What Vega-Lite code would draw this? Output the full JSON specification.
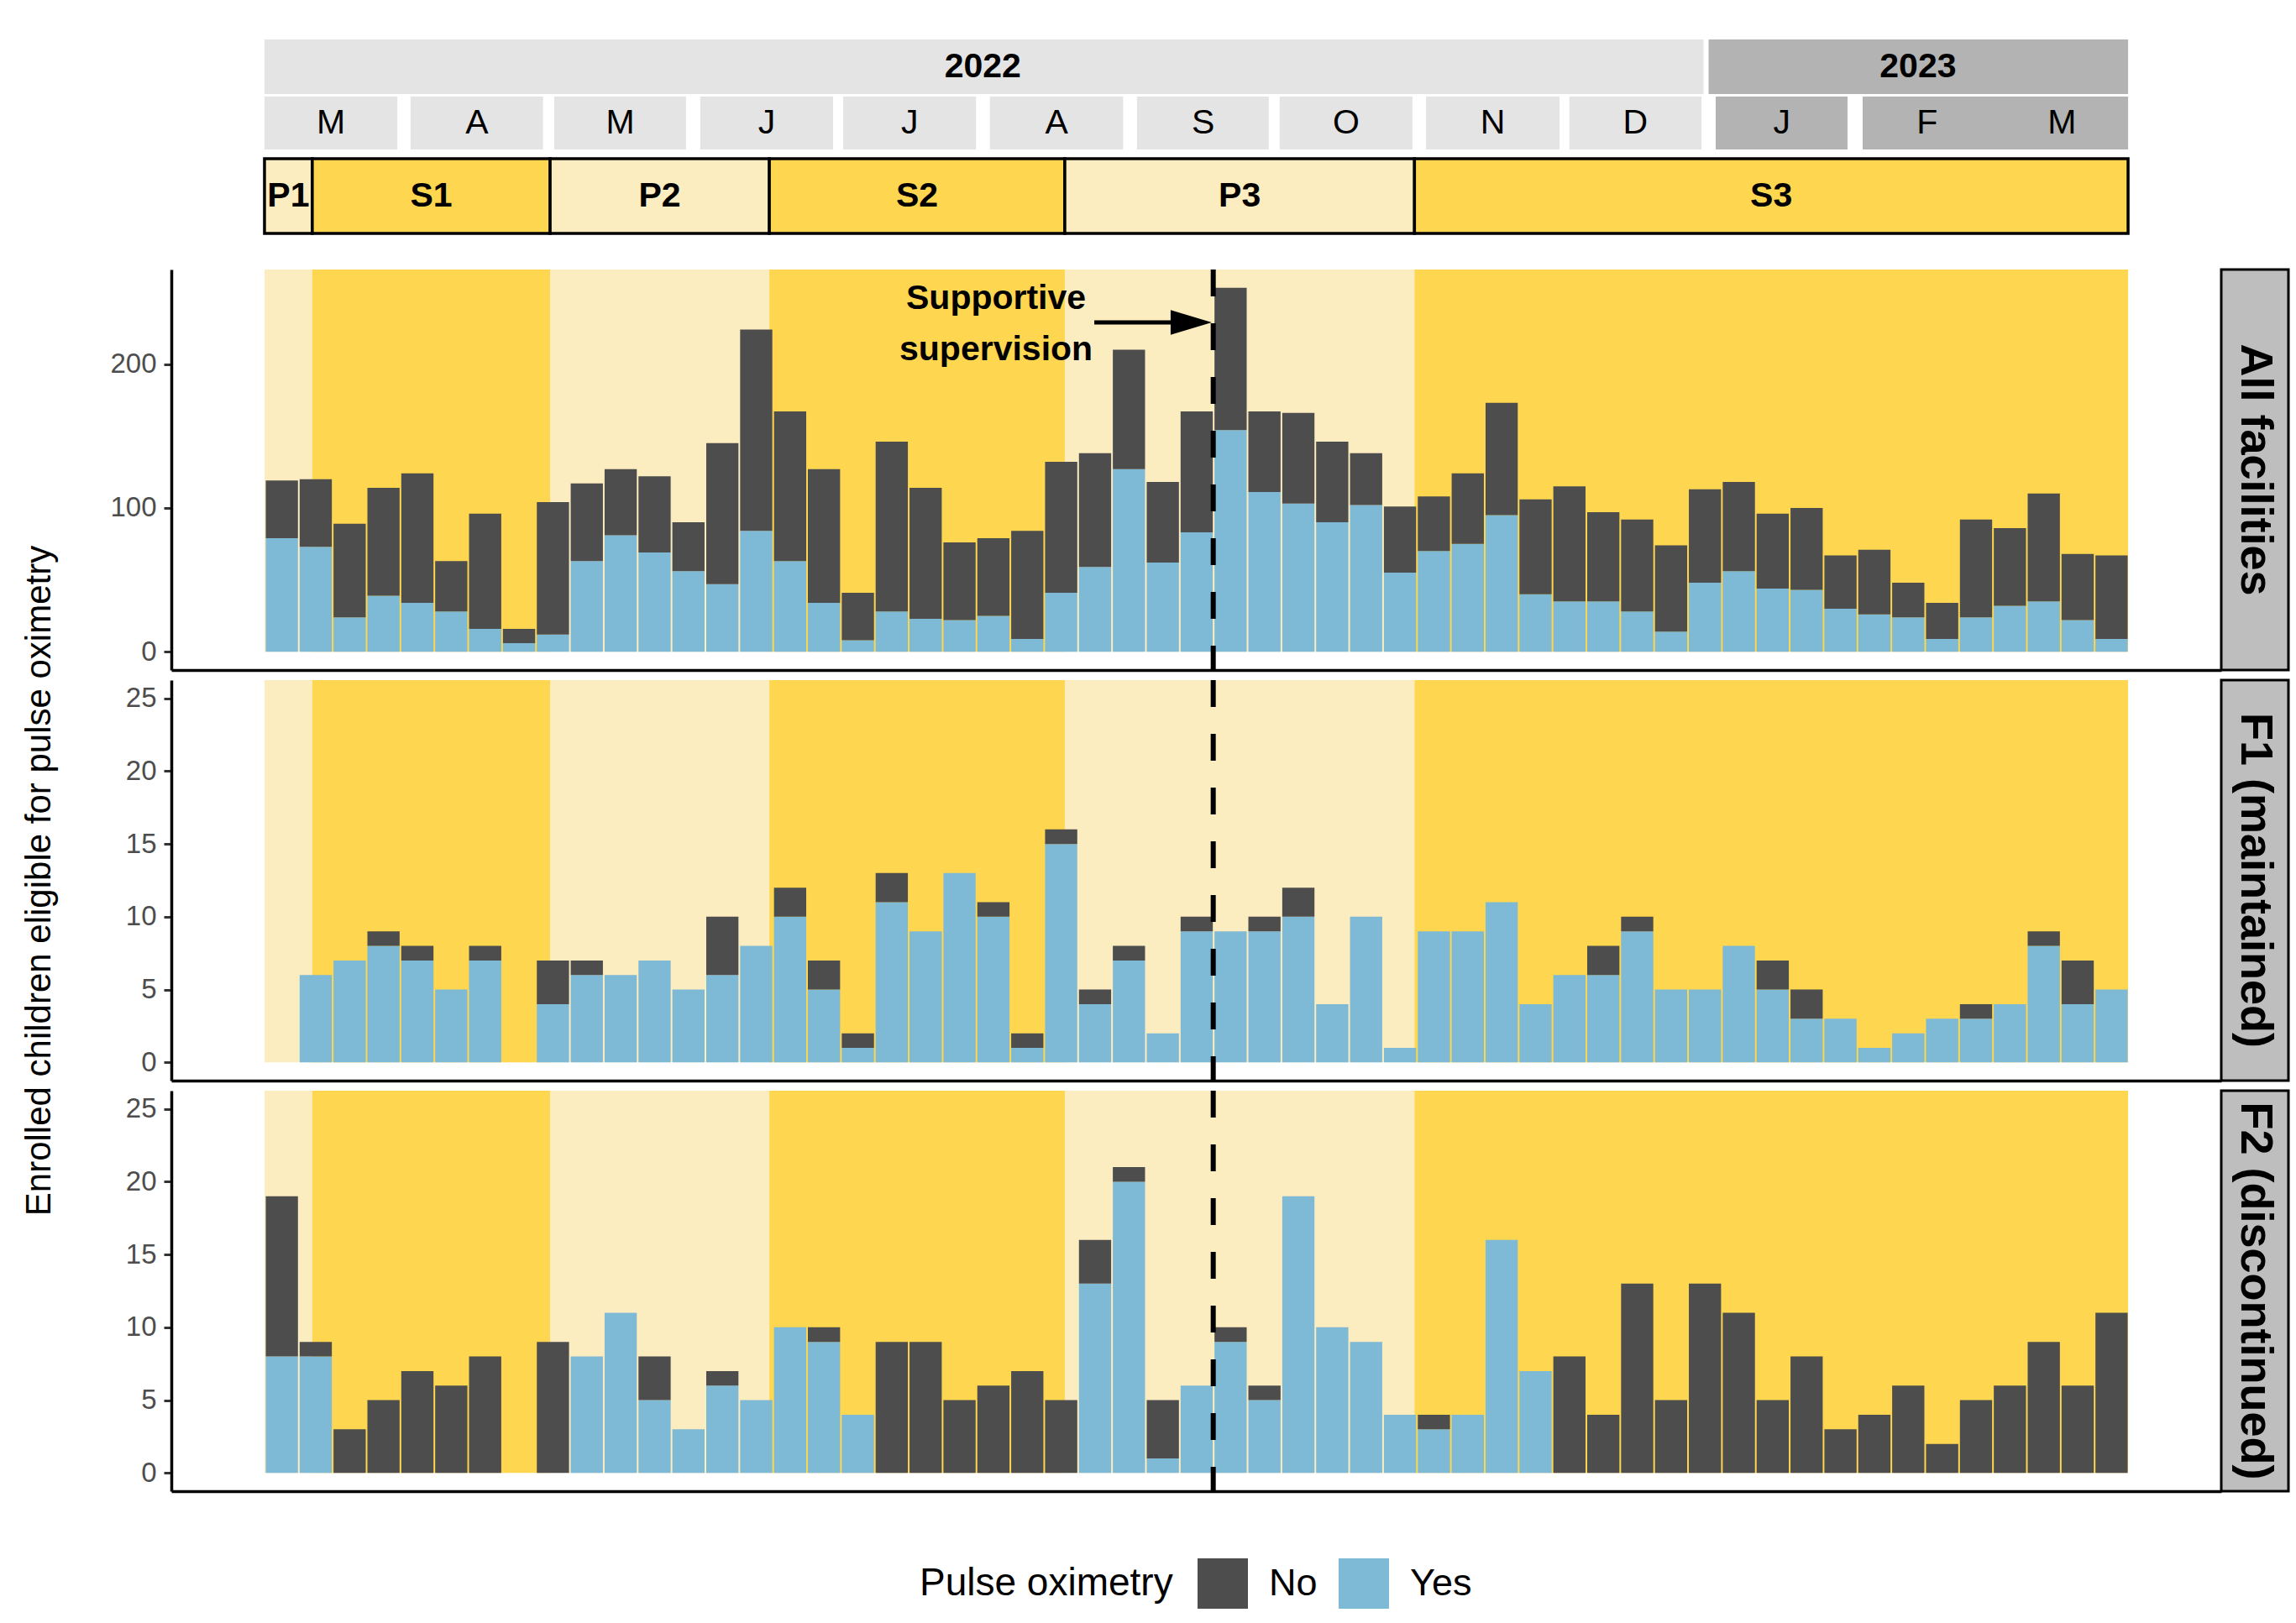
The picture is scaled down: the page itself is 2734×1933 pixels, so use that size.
{
"$schema": "https://vega.github.io/schema/vega-lite/v6.json",
"background": "white",
"padding": {"left": 25, "top": 47, "right": 5, "bottom": 5},
"config": {
  "font": "Liberation Sans",
  "view": {"stroke": null},
  "axis": {"grid": false, "domainColor": "black", "domainWidth": 3.5, "tickColor": "#333333", "tickWidth": 3, "tickSize": 9, "labelColor": "#4D4D4D", "labelFontSize": 33, "labelPadding": 9, "titleFontSize": 42, "titleFontWeight": "normal", "titleColor": "black"}
},
"datasets": {
  "years": [
    {"yr": "2022", "cat": "2022", "start": 0, "end": 42.47, "mid": 21.2},
    {"yr": "2023", "cat": "2023", "start": 42.62, "end": 55, "mid": 48.8}
  ],
  "months": [
    {"m": "M", "cat": "2022", "start": 0, "end": 3.92, "mid": 1.96},
    {"m": "A", "cat": "2022", "start": 4.31, "end": 8.22, "mid": 6.27},
    {"m": "M", "cat": "2022", "start": 8.55, "end": 12.44, "mid": 10.5},
    {"m": "J", "cat": "2022", "start": 12.86, "end": 16.78, "mid": 14.82},
    {"m": "J", "cat": "2022", "start": 17.08, "end": 21.0, "mid": 19.04},
    {"m": "A", "cat": "2022", "start": 21.41, "end": 25.34, "mid": 23.38},
    {"m": "S", "cat": "2022", "start": 25.75, "end": 29.64, "mid": 27.7},
    {"m": "O", "cat": "2022", "start": 29.96, "end": 33.88, "mid": 31.92},
    {"m": "N", "cat": "2022", "start": 34.28, "end": 38.22, "mid": 36.25},
    {"m": "D", "cat": "2022", "start": 38.51, "end": 42.41, "mid": 40.46},
    {"m": "J", "cat": "2023", "start": 42.83, "end": 46.72, "mid": 44.78},
    {"m": "F", "cat": "2023", "start": 47.17, "end": 55, "mid": 49.07},
    {"m": "M", "cat": "2023", "start": 47.17, "end": 55, "mid": 53.05}
  ],
  "periods": [
    {"p": "P1", "cat": "P", "start": 0, "end": 1.41, "mid": 0.705},
    {"p": "S1", "cat": "S", "start": 1.41, "end": 8.43, "mid": 4.92},
    {"p": "P2", "cat": "P", "start": 8.43, "end": 14.9, "mid": 11.665},
    {"p": "S2", "cat": "S", "start": 14.9, "end": 23.62, "mid": 19.26},
    {"p": "P3", "cat": "P", "start": 23.62, "end": 33.94, "mid": 28.78},
    {"p": "S3", "cat": "S", "start": 33.94, "end": 55, "mid": 44.47}
  ],
  "events": [
    {"event": "Supportive supervision", "w": 28}
  ],
  "all": [
    {"w": 0, "Yes": 79, "No": 40}, {"w": 1, "Yes": 73, "No": 47}, {"w": 2, "Yes": 24, "No": 65}, {"w": 3, "Yes": 39, "No": 75},
    {"w": 4, "Yes": 34, "No": 90}, {"w": 5, "Yes": 28, "No": 35}, {"w": 6, "Yes": 16, "No": 80}, {"w": 7, "Yes": 6, "No": 10},
    {"w": 8, "Yes": 12, "No": 92}, {"w": 9, "Yes": 63, "No": 54}, {"w": 10, "Yes": 81, "No": 46}, {"w": 11, "Yes": 69, "No": 53},
    {"w": 12, "Yes": 56, "No": 34}, {"w": 13, "Yes": 47, "No": 98}, {"w": 14, "Yes": 84, "No": 140}, {"w": 15, "Yes": 63, "No": 104},
    {"w": 16, "Yes": 34, "No": 93}, {"w": 17, "Yes": 8, "No": 33}, {"w": 18, "Yes": 28, "No": 118}, {"w": 19, "Yes": 23, "No": 91},
    {"w": 20, "Yes": 22, "No": 54}, {"w": 21, "Yes": 25, "No": 54}, {"w": 22, "Yes": 9, "No": 75}, {"w": 23, "Yes": 41, "No": 91},
    {"w": 24, "Yes": 59, "No": 79}, {"w": 25, "Yes": 127, "No": 83}, {"w": 26, "Yes": 62, "No": 56}, {"w": 27, "Yes": 83, "No": 84},
    {"w": 28, "Yes": 154, "No": 99}, {"w": 29, "Yes": 111, "No": 56}, {"w": 30, "Yes": 103, "No": 63}, {"w": 31, "Yes": 90, "No": 56},
    {"w": 32, "Yes": 102, "No": 36}, {"w": 33, "Yes": 55, "No": 46}, {"w": 34, "Yes": 70, "No": 38}, {"w": 35, "Yes": 75, "No": 49},
    {"w": 36, "Yes": 95, "No": 78}, {"w": 37, "Yes": 40, "No": 66}, {"w": 38, "Yes": 35, "No": 80}, {"w": 39, "Yes": 35, "No": 62},
    {"w": 40, "Yes": 28, "No": 64}, {"w": 41, "Yes": 14, "No": 60}, {"w": 42, "Yes": 48, "No": 65}, {"w": 43, "Yes": 56, "No": 62},
    {"w": 44, "Yes": 44, "No": 52}, {"w": 45, "Yes": 43, "No": 57}, {"w": 46, "Yes": 30, "No": 37}, {"w": 47, "Yes": 26, "No": 45},
    {"w": 48, "Yes": 24, "No": 24}, {"w": 49, "Yes": 9, "No": 25}, {"w": 50, "Yes": 24, "No": 68}, {"w": 51, "Yes": 32, "No": 54},
    {"w": 52, "Yes": 35, "No": 75}, {"w": 53, "Yes": 22, "No": 46}, {"w": 54, "Yes": 9, "No": 58}
  ],
  "f1": [
    {"w": 0, "Yes": 0, "No": 0}, {"w": 1, "Yes": 6, "No": 0}, {"w": 2, "Yes": 7, "No": 0}, {"w": 3, "Yes": 8, "No": 1},
    {"w": 4, "Yes": 7, "No": 1}, {"w": 5, "Yes": 5, "No": 0}, {"w": 6, "Yes": 7, "No": 1}, {"w": 7, "Yes": 0, "No": 0},
    {"w": 8, "Yes": 4, "No": 3}, {"w": 9, "Yes": 6, "No": 1}, {"w": 10, "Yes": 6, "No": 0}, {"w": 11, "Yes": 7, "No": 0},
    {"w": 12, "Yes": 5, "No": 0}, {"w": 13, "Yes": 6, "No": 4}, {"w": 14, "Yes": 8, "No": 0}, {"w": 15, "Yes": 10, "No": 2},
    {"w": 16, "Yes": 5, "No": 2}, {"w": 17, "Yes": 1, "No": 1}, {"w": 18, "Yes": 11, "No": 2}, {"w": 19, "Yes": 9, "No": 0},
    {"w": 20, "Yes": 13, "No": 0}, {"w": 21, "Yes": 10, "No": 1}, {"w": 22, "Yes": 1, "No": 1}, {"w": 23, "Yes": 15, "No": 1},
    {"w": 24, "Yes": 4, "No": 1}, {"w": 25, "Yes": 7, "No": 1}, {"w": 26, "Yes": 2, "No": 0}, {"w": 27, "Yes": 9, "No": 1},
    {"w": 28, "Yes": 9, "No": 0}, {"w": 29, "Yes": 9, "No": 1}, {"w": 30, "Yes": 10, "No": 2}, {"w": 31, "Yes": 4, "No": 0},
    {"w": 32, "Yes": 10, "No": 0}, {"w": 33, "Yes": 1, "No": 0}, {"w": 34, "Yes": 9, "No": 0}, {"w": 35, "Yes": 9, "No": 0},
    {"w": 36, "Yes": 11, "No": 0}, {"w": 37, "Yes": 4, "No": 0}, {"w": 38, "Yes": 6, "No": 0}, {"w": 39, "Yes": 6, "No": 2},
    {"w": 40, "Yes": 9, "No": 1}, {"w": 41, "Yes": 5, "No": 0}, {"w": 42, "Yes": 5, "No": 0}, {"w": 43, "Yes": 8, "No": 0},
    {"w": 44, "Yes": 5, "No": 2}, {"w": 45, "Yes": 3, "No": 2}, {"w": 46, "Yes": 3, "No": 0}, {"w": 47, "Yes": 1, "No": 0},
    {"w": 48, "Yes": 2, "No": 0}, {"w": 49, "Yes": 3, "No": 0}, {"w": 50, "Yes": 3, "No": 1}, {"w": 51, "Yes": 4, "No": 0},
    {"w": 52, "Yes": 8, "No": 1}, {"w": 53, "Yes": 4, "No": 3}, {"w": 54, "Yes": 5, "No": 0}
  ],
  "f2": [
    {"w": 0, "Yes": 8, "No": 11}, {"w": 1, "Yes": 8, "No": 1}, {"w": 2, "Yes": 0, "No": 3}, {"w": 3, "Yes": 0, "No": 5},
    {"w": 4, "Yes": 0, "No": 7}, {"w": 5, "Yes": 0, "No": 6}, {"w": 6, "Yes": 0, "No": 8}, {"w": 7, "Yes": 0, "No": 0},
    {"w": 8, "Yes": 0, "No": 9}, {"w": 9, "Yes": 8, "No": 0}, {"w": 10, "Yes": 11, "No": 0}, {"w": 11, "Yes": 5, "No": 3},
    {"w": 12, "Yes": 3, "No": 0}, {"w": 13, "Yes": 6, "No": 1}, {"w": 14, "Yes": 5, "No": 0}, {"w": 15, "Yes": 10, "No": 0},
    {"w": 16, "Yes": 9, "No": 1}, {"w": 17, "Yes": 4, "No": 0}, {"w": 18, "Yes": 0, "No": 9}, {"w": 19, "Yes": 0, "No": 9},
    {"w": 20, "Yes": 0, "No": 5}, {"w": 21, "Yes": 0, "No": 6}, {"w": 22, "Yes": 0, "No": 7}, {"w": 23, "Yes": 0, "No": 5},
    {"w": 24, "Yes": 13, "No": 3}, {"w": 25, "Yes": 20, "No": 1}, {"w": 26, "Yes": 1, "No": 4}, {"w": 27, "Yes": 6, "No": 0},
    {"w": 28, "Yes": 9, "No": 1}, {"w": 29, "Yes": 5, "No": 1}, {"w": 30, "Yes": 19, "No": 0}, {"w": 31, "Yes": 10, "No": 0},
    {"w": 32, "Yes": 9, "No": 0}, {"w": 33, "Yes": 4, "No": 0}, {"w": 34, "Yes": 3, "No": 1}, {"w": 35, "Yes": 4, "No": 0},
    {"w": 36, "Yes": 16, "No": 0}, {"w": 37, "Yes": 7, "No": 0}, {"w": 38, "Yes": 0, "No": 8}, {"w": 39, "Yes": 0, "No": 4},
    {"w": 40, "Yes": 0, "No": 13}, {"w": 41, "Yes": 0, "No": 5}, {"w": 42, "Yes": 0, "No": 13}, {"w": 43, "Yes": 0, "No": 11},
    {"w": 44, "Yes": 0, "No": 5}, {"w": 45, "Yes": 0, "No": 8}, {"w": 46, "Yes": 0, "No": 3}, {"w": 47, "Yes": 0, "No": 4},
    {"w": 48, "Yes": 0, "No": 6}, {"w": 49, "Yes": 0, "No": 2}, {"w": 50, "Yes": 0, "No": 5}, {"w": 51, "Yes": 0, "No": 6},
    {"w": 52, "Yes": 0, "No": 9}, {"w": 53, "Yes": 0, "No": 6}, {"w": 54, "Yes": 0, "No": 11}
  ]
},
"spacing": 38,
"vconcat": [
  {
    "spacing": 9,
    "vconcat": [
      {
        "spacing": 3,
        "vconcat": [
          {
            "width": 2441, "height": 65,
            "data": {"name": "years"},
            "layer": [
              {"mark": {"type": "rect"},
               "encoding": {
                 "x": {"field": "start", "type": "quantitative", "scale": {"domain": [-2.75, 57.75], "nice": false, "zero": false}, "axis": null},
                 "x2": {"field": "end"},
                 "fill": {"field": "cat", "type": "nominal", "scale": {"domain": ["2022", "2023", "P", "S"], "range": ["#E4E4E4", "#B3B3B3", "#FCEDC1", "#FED650"]}, "legend": null}
               }},
              {"mark": {"type": "text", "fontSize": 41, "fontWeight": "bold", "color": "black"},
               "encoding": {
                 "x": {"field": "mid", "type": "quantitative", "scale": {"domain": [-2.75, 57.75], "nice": false, "zero": false}, "axis": null},
                 "text": {"field": "yr", "type": "nominal"}
               }}
            ]
          },
          {
            "width": 2441, "height": 63,
            "data": {"name": "months"},
            "layer": [
              {"mark": {"type": "rect"},
               "encoding": {
                 "x": {"field": "start", "type": "quantitative", "scale": {"domain": [-2.75, 57.75], "nice": false, "zero": false}, "axis": null},
                 "x2": {"field": "end"},
                 "fill": {"field": "cat", "type": "nominal", "scale": {"domain": ["2022", "2023", "P", "S"], "range": ["#E4E4E4", "#B3B3B3", "#FCEDC1", "#FED650"]}, "legend": null}
               }},
              {"mark": {"type": "text", "fontSize": 41, "color": "black"},
               "encoding": {
                 "x": {"field": "mid", "type": "quantitative", "scale": {"domain": [-2.75, 57.75], "nice": false, "zero": false}, "axis": null},
                 "text": {"field": "m", "type": "nominal"}
               }}
            ]
          }
        ]
      },
      {
        "width": 2441, "height": 89,
        "data": {"name": "periods"},
        "layer": [
          {"mark": {"type": "rect", "stroke": "black", "strokeWidth": 3.5},
           "encoding": {
             "x": {"field": "start", "type": "quantitative", "scale": {"domain": [-2.75, 57.75], "nice": false, "zero": false}, "axis": null},
             "x2": {"field": "end"},
             "fill": {"field": "cat", "type": "nominal", "scale": {"domain": ["2022", "2023", "P", "S"], "range": ["#E4E4E4", "#B3B3B3", "#FCEDC1", "#FED650"]}, "legend": null}
           }},
          {"mark": {"type": "text", "fontSize": 41, "fontWeight": "bold", "color": "black"},
           "encoding": {
             "x": {"field": "mid", "type": "quantitative", "scale": {"domain": [-2.75, 57.75], "nice": false, "zero": false}, "axis": null},
             "text": {"field": "p", "type": "nominal"}
           }}
        ]
      }
    ]
  },
  {
    "columns": 2,
    "spacing": {"row": 12, "column": 0},
    "bounds": "flush",
    "concat": [
      {
        "width": 2441, "height": 477,
        "layer": [
          {"data": {"name": "periods"},
           "mark": {"type": "rect"},
           "encoding": {
             "x": {"field": "start", "type": "quantitative", "scale": {"domain": [-2.75, 57.75], "nice": false, "zero": false}, "axis": {"labels": false, "ticks": false, "title": null, "grid": false}},
             "x2": {"field": "end"},
             "y": {"datum": 0, "type": "quantitative", "scale": {"domain": [-12.65, 265.65], "nice": false, "zero": false}, "axis": {"values": [0, 100, 200], "title": null}},
             "y2": {"datum": 265.65},
             "fill": {"field": "cat", "type": "nominal", "scale": {"domain": ["2022", "2023", "P", "S"], "range": ["#E4E4E4", "#B3B3B3", "#FCEDC1", "#FED650"]}, "legend": null}
           }},
          {"data": {"name": "all"},
           "transform": [{"fold": ["Yes", "No"], "as": ["status", "n"]}],
           "mark": {"type": "bar", "binSpacing": 2},
           "encoding": {
             "x": {"field": "w", "type": "quantitative", "bin": {"step": 1, "extent": [0, 55]}, "scale": {"domain": [-2.75, 57.75], "nice": false, "zero": false}, "axis": {"labels": false, "ticks": false, "title": null, "grid": false}},
             "y": {"field": "n", "type": "quantitative", "stack": "zero", "scale": {"domain": [-12.65, 265.65], "nice": false, "zero": false}, "axis": {"values": [0, 100, 200], "title": null}},
             "color": {"field": "status", "type": "nominal", "scale": {"domain": ["No", "Yes"], "range": ["#4D4D4D", "#7EB9D6"]},
               "legend": {"orient": "none", "legendX": 891, "legendY": 1809, "direction": "horizontal", "title": "Pulse oximetry", "titleOrient": "left", "titleFontSize": 46, "titleFontWeight": "normal", "titleColor": "black", "titlePadding": 29, "titleLimit": 1000, "labelLimit": 500, "labelFontSize": 45, "labelColor": "black", "labelOffset": 25, "columnPadding": 25, "symbolType": "square", "symbolSize": 3600, "symbolStrokeWidth": 0, "symbolOpacity": 1}},
             "order": {"field": "status", "sort": "descending"}
           }},
          {"data": {"name": "events"},
           "mark": {"type": "rule", "strokeDash": [32, 32], "strokeWidth": 6, "color": "black"},
           "encoding": {
             "x": {"field": "w", "type": "quantitative", "scale": {"domain": [-2.75, 57.75], "nice": false, "zero": false}, "axis": {"labels": false, "ticks": false, "title": null, "grid": false}}
           }},
          {"data": {"values": [{}]},
           "mark": {"type": "text", "text": ["Supportive", "supervision"], "fontSize": 41, "fontWeight": "bold", "lineHeight": 61, "align": "center", "baseline": "middle", "color": "black"},
           "encoding": {
             "x": {"datum": 21.59, "type": "quantitative"},
             "y": {"datum": 245.2, "type": "quantitative"}
           }},
          {"data": {"values": [{}]},
           "mark": {"type": "rule", "strokeWidth": 5, "color": "black"},
           "encoding": {
             "x": {"datum": 24.49, "type": "quantitative"},
             "x2": {"datum": 26.9},
             "y": {"datum": 228.9, "type": "quantitative"}
           }},
          {"data": {"values": [{}]},
           "mark": {"type": "point", "shape": "M-1,-0.6L1,0L-1,0.6Z", "size": 2401, "filled": true, "color": "black", "opacity": 1},
           "encoding": {
             "x": {"datum": 27.35, "type": "quantitative"},
             "y": {"datum": 228.9, "type": "quantitative"}
           }}
        ]
      },
      {
        "width": 80, "height": 477,
        "view": {"fill": "#BEBEBE", "stroke": "black", "strokeWidth": 3},
        "data": {"values": [{"facet": "All facilities"}]},
        "mark": {"type": "text", "angle": 90, "fontSize": 54, "fontWeight": "bold", "color": "black", "align": "center", "baseline": "middle"},
        "encoding": {"text": {"field": "facet", "type": "nominal"}}
      },
      {
        "width": 2441, "height": 477,
        "layer": [
          {"data": {"name": "periods"},
           "mark": {"type": "rect"},
           "encoding": {
             "x": {"field": "start", "type": "quantitative", "scale": {"domain": [-2.75, 57.75], "nice": false, "zero": false}, "axis": {"labels": false, "ticks": false, "title": null, "grid": false}},
             "x2": {"field": "end"},
             "y": {"datum": 0, "type": "quantitative", "scale": {"domain": [-1.25, 26.25], "nice": false, "zero": false}, "axis": {"values": [0, 5, 10, 15, 20, 25], "title": "Enrolled children eligible for pulse oximetry", "titlePadding": 81}},
             "y2": {"datum": 26.25},
             "fill": {"field": "cat", "type": "nominal", "scale": {"domain": ["2022", "2023", "P", "S"], "range": ["#E4E4E4", "#B3B3B3", "#FCEDC1", "#FED650"]}, "legend": null}
           }},
          {"data": {"name": "f1"},
           "transform": [{"fold": ["Yes", "No"], "as": ["status", "n"]}],
           "mark": {"type": "bar", "binSpacing": 2},
           "encoding": {
             "x": {"field": "w", "type": "quantitative", "bin": {"step": 1, "extent": [0, 55]}, "scale": {"domain": [-2.75, 57.75], "nice": false, "zero": false}, "axis": {"labels": false, "ticks": false, "title": null, "grid": false}},
             "y": {"field": "n", "type": "quantitative", "stack": "zero", "scale": {"domain": [-1.25, 26.25], "nice": false, "zero": false}, "axis": {"values": [0, 5, 10, 15, 20, 25], "title": "Enrolled children eligible for pulse oximetry", "titlePadding": 81}},
             "color": {"field": "status", "type": "nominal", "scale": {"domain": ["No", "Yes"], "range": ["#4D4D4D", "#7EB9D6"]}},
             "order": {"field": "status", "sort": "descending"}
           }},
          {"data": {"name": "events"},
           "mark": {"type": "rule", "strokeDash": [32, 32], "strokeWidth": 6, "color": "black"},
           "encoding": {
             "x": {"field": "w", "type": "quantitative", "scale": {"domain": [-2.75, 57.75], "nice": false, "zero": false}, "axis": {"labels": false, "ticks": false, "title": null, "grid": false}}
           }}
        ]
      },
      {
        "width": 80, "height": 477,
        "view": {"fill": "#BEBEBE", "stroke": "black", "strokeWidth": 3},
        "data": {"values": [{"facet": "F1 (maintained)"}]},
        "mark": {"type": "text", "angle": 90, "fontSize": 54, "fontWeight": "bold", "color": "black", "align": "center", "baseline": "middle"},
        "encoding": {"text": {"field": "facet", "type": "nominal"}}
      },
      {
        "width": 2441, "height": 477,
        "layer": [
          {"data": {"name": "periods"},
           "mark": {"type": "rect"},
           "encoding": {
             "x": {"field": "start", "type": "quantitative", "scale": {"domain": [-2.75, 57.75], "nice": false, "zero": false}, "axis": {"labels": false, "ticks": false, "title": null, "grid": false}},
             "x2": {"field": "end"},
             "y": {"datum": 0, "type": "quantitative", "scale": {"domain": [-1.25, 26.25], "nice": false, "zero": false}, "axis": {"values": [0, 5, 10, 15, 20, 25], "title": null}},
             "y2": {"datum": 26.25},
             "fill": {"field": "cat", "type": "nominal", "scale": {"domain": ["2022", "2023", "P", "S"], "range": ["#E4E4E4", "#B3B3B3", "#FCEDC1", "#FED650"]}, "legend": null}
           }},
          {"data": {"name": "f2"},
           "transform": [{"fold": ["Yes", "No"], "as": ["status", "n"]}],
           "mark": {"type": "bar", "binSpacing": 2},
           "encoding": {
             "x": {"field": "w", "type": "quantitative", "bin": {"step": 1, "extent": [0, 55]}, "scale": {"domain": [-2.75, 57.75], "nice": false, "zero": false}, "axis": {"labels": false, "ticks": false, "title": null, "grid": false}},
             "y": {"field": "n", "type": "quantitative", "stack": "zero", "scale": {"domain": [-1.25, 26.25], "nice": false, "zero": false}, "axis": {"values": [0, 5, 10, 15, 20, 25], "title": null}},
             "color": {"field": "status", "type": "nominal", "scale": {"domain": ["No", "Yes"], "range": ["#4D4D4D", "#7EB9D6"]}},
             "order": {"field": "status", "sort": "descending"}
           }},
          {"data": {"name": "events"},
           "mark": {"type": "rule", "strokeDash": [32, 32], "strokeWidth": 6, "color": "black"},
           "encoding": {
             "x": {"field": "w", "type": "quantitative", "scale": {"domain": [-2.75, 57.75], "nice": false, "zero": false}, "axis": {"labels": false, "ticks": false, "title": null, "grid": false}}
           }}
        ]
      },
      {
        "width": 80, "height": 477,
        "view": {"fill": "#BEBEBE", "stroke": "black", "strokeWidth": 3},
        "data": {"values": [{"facet": "F2 (discontinued)"}]},
        "mark": {"type": "text", "angle": 90, "fontSize": 54, "fontWeight": "bold", "color": "black", "align": "center", "baseline": "middle"},
        "encoding": {"text": {"field": "facet", "type": "nominal"}}
      }
    ]
  }
]
}
